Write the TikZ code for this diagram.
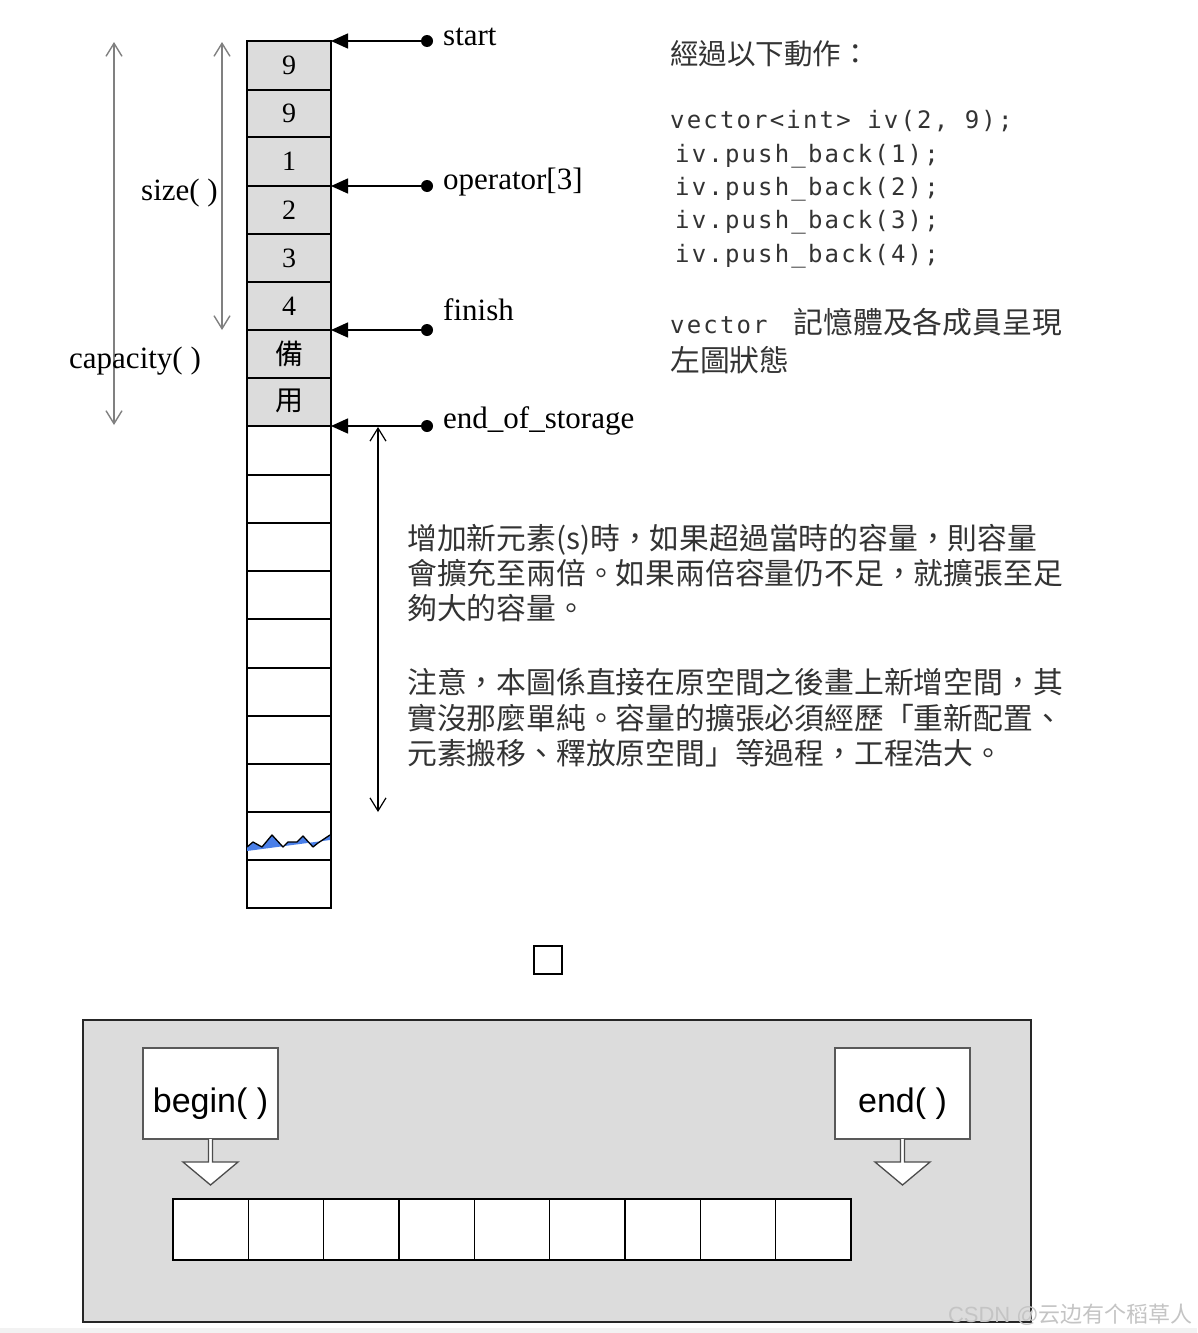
\documentclass[tikz,border=0pt]{standalone}
\usepackage{fontspec}
\setmainfont{Liberation Serif}
\newfontfamily\cjkfont{Noto Sans CJK TC}
\newfontfamily\cjkscfont{Noto Sans CJK SC}
\newfontfamily\codefont[LetterSpace=9]{DejaVu Sans Mono}
\newfontfamily\arialfont{Liberation Sans}
\usetikzlibrary{arrows.meta,calc}
\definecolor{cellgray}{HTML}{DCDCDC}
\definecolor{txtgray}{HTML}{333333}
\definecolor{dimline}{HTML}{808080}
\definecolor{wavblue}{HTML}{4A7FE8}
\definecolor{stripgray}{HTML}{F2F2F2}
\definecolor{wmgray}{HTML}{C4C4C4}
\begin{document}
\begin{tikzpicture}[x=1pt,y=-1pt,
  cellbox/.style={draw=black, line width=1.3pt, minimum width=84pt, inner sep=0pt, outer sep=0pt,
    font=\fontsize{28}{28}\selectfont},
  dotnode/.style={circle, fill=black, minimum size=12pt, inner sep=0pt},
  lbl/.style={inner sep=0pt, font=\fontsize{31}{31}\selectfont},
  ptr/.style={draw=black, line width=1.5pt, -{Triangle[length=17pt,width=15pt]}},
  dimarrow/.style={draw=dimline, line width=1.4pt,
    {Straight Barb[length=13pt,width=16pt]}-{Straight Barb[length=13pt,width=16pt]}},
  blkarrow/.style={draw=black, line width=1.2pt,
    {Straight Barb[length=13pt,width=16pt]}-{Straight Barb[length=13pt,width=16pt]}},
  cjktxt/.style={inner sep=0pt, text=txtgray, font=\cjkfont\fontsize{29.8}{29.8}\selectfont},
  codetxt/.style={inner sep=0pt, text=txtgray, font=\codefont\fontsize{24}{24}\selectfont},
  panelbox/.style={draw=black!85, line width=2pt, fill=cellgray, minimum width=948pt, minimum height=302pt, inner sep=0pt, outer sep=0pt},
  itbox/.style={draw=black!65, line width=1.5pt, fill=white, minimum width=135pt, minimum height=91pt, inner sep=0pt, outer sep=0pt,
    text height=40pt, text depth=3pt, font=\arialfont\fontsize{34}{34}\selectfont},
  hollow/.style={draw=black!70, line width=1.3pt, fill=white},
  rowcell/.style={draw=black, line width=1.3pt, fill=white, minimum width=75.33pt, minimum height=61pt, inner sep=0pt, outer sep=0pt}
]
\fill[white] (0,0) rectangle (1197,1333);
\useasboundingbox (0,0) rectangle (1197,1333);
\fill[stripgray] (0,1328) rectangle (1197,1333);

% ---------- memory column ----------
\foreach \t/\b/\lab [count=\i] in {41/90/9, 90/137/9, 137/186/1, 186/234/2, 234/282/3, 282/330/4,
    330/378/{\cjkfont\fontsize{28}{28}\selectfont 備}, 378/426/{\cjkfont\fontsize{28}{28}\selectfont\raisebox{4pt}{用}}}
  \node[cellbox, fill=cellgray, minimum height={\b-\t}] (c\i) at (289,{(\t+\b)/2}) {\lab};
\foreach \t/\b [count=\i from 9] in {426/475, 475/523, 523/571, 571/619, 619/668, 668/716, 716/764, 764/812, 812/860, 860/908}
  \node[cellbox, fill=white, minimum height={\b-\t}] (c\i) at (289,{(\t+\b)/2}) {};

% torn-edge wave
\fill[wavblue] (247,847) -- (253,842) -- (262,847) -- (272,835) -- (283,847) -- (288,842) -- (297,842)
  -- (303,836) -- (313,847) -- (318,843) -- (330,835) -- (330,840) -- (247,851) -- cycle;
\draw[line width=1.3pt, line join=round] (247,847) -- (253,842) -- (262,847) -- (272,835) -- (283,847)
  -- (288,842) -- (297,842) -- (303,836) -- (313,847) -- (318,843) -- (330,835);

% ---------- pointers ----------
\node[dotnode] (dstart) at (427,41) {};
\node[dotnode] (doper) at (427,186) {};
\node[dotnode] (dfinish) at (427,330) {};
\node[dotnode] (deos) at (427,426) {};
\draw[ptr] (dstart.center) -- (c1.north east);
\draw[ptr] (doper.center) -- (c3.south east);
\draw[ptr] (dfinish.center) -- (c6.south east);
\draw[ptr] (deos.center) -- (c8.south east);
\node[lbl, anchor=base west] (lstart) at (443,45) {start};
\node[lbl, anchor=base west] (loper) at (443,189) {operator[3]};
\node[lbl, anchor=base west] (lfinish) at (443,320) {finish};
\node[lbl, anchor=base west] (leos) at (443,428) {end\_of\_storage};

% ---------- size / capacity ----------
\coordinate (sztop) at (222,42);
\coordinate (szbot) at (222,330);
\coordinate (cptop) at (114,42);
\coordinate (cpbot) at (114,425);
\draw[dimarrow] (sztop) -- (szbot);
\draw[dimarrow] (cptop) -- (cpbot);
\node[lbl, anchor=base west] (lsize) at (141,200) {size( )};
\node[lbl, anchor=base west] (lcap) at (69,368) {capacity( )};

\coordinate (rtop) at (378,427);
\coordinate (rbot) at (378,812);
\draw[blkarrow] (rtop) -- (rbot);

% ---------- right-hand text ----------
\node[cjktxt, anchor=base west, font=\cjkfont\fontsize{28.5}{28.5}\selectfont] (t0) at (670,64) {經過以下動作：};
\node[codetxt, anchor=base west] (k1) at (670,128) {vector<int> iv(2, 9);};
\node[codetxt, anchor=base west] (k2) at (675,162) {iv.push\_back(1);};
\node[codetxt, anchor=base west] (k3) at (675,195) {iv.push\_back(2);};
\node[codetxt, anchor=base west] (k4) at (675,228) {iv.push\_back(3);};
\node[codetxt, anchor=base west] (k5) at (675,262) {iv.push\_back(4);};
\node[cjktxt, anchor=base west] (t6) at (670,333) {{\codefont\fontsize{24}{24}\selectfont vector}\hspace{26pt}記憶體及各成員呈現};
\node[cjktxt, anchor=base west] (t7) at (670,371) {左圖狀態};

\node[cjktxt, anchor=base west] (p1) at (407,549) {增加新元素(s)時，如果超過當時的容量，則容量};
\node[cjktxt, anchor=base west] (p2) at (407,584) {會擴充至兩倍。如果兩倍容量仍不足，就擴張至足};
\node[cjktxt, anchor=base west] (p3) at (407,619) {夠大的容量。};
\node[cjktxt, anchor=base west] (p4) at (407,693) {注意，本圖係直接在原空間之後畫上新增空間，其};
\node[cjktxt, anchor=base west] (p5) at (407,729) {實沒那麼單純。容量的擴張必須經歷「重新配置、};
\node[cjktxt, anchor=base west] (p6) at (407,764) {元素搬移、釋放原空間」等過程，工程浩大。};

% ---------- small square ----------
\node[draw=black, line width=1.5pt, minimum size=28pt, inner sep=0pt] (sq) at (548,960) {};

% ---------- bottom panel ----------
\node[panelbox] (pan) at (557,1171) {};
\node[itbox] (bgn) at (210.5,1093.5) {begin( )};
\node[itbox] (endb) at (902.5,1093.5) {end( )};
\foreach \n in {bgn,endb}
  \draw[hollow] ($(\n.south)+(-2,0)$) -- ++(0,23) -- ++(-25.5,0) -- ++(27.5,23) -- ++(27.5,-23)
    -- ++(-25.5,0) -- ++(0,-23);
\foreach \i in {1,...,9}
  \node[rowcell] (r\i) at ({173+75.33*(\i-0.5)},1229.5) {};

% ---------- watermark ----------
\node[anchor=base east, inner sep=0pt, text=wmgray, font=\fontsize{22}{22}\selectfont] (wm) at (1193,1322)
  {\arialfont CSDN @\cjkscfont 云边有个稻草人};
\end{tikzpicture}
\end{document}
